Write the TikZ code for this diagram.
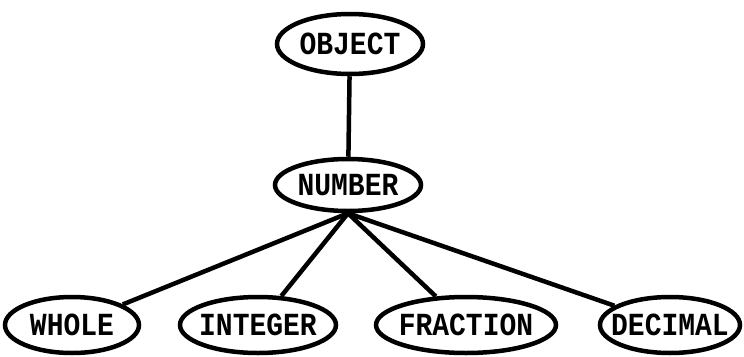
\documentclass[tikz,border=0pt]{standalone}
\usepackage{fontspec}
\newfontfamily\lblfont{Liberation Mono}
\usetikzlibrary{shapes.geometric}
\tikzset{
  ell/.style={ellipse, draw, line width=4.5pt, inner sep=0pt},
  txt/.style={inner sep=0pt, font=\lblfont\bfseries\fontsize{28}{28}\selectfont},
  link/.style={line width=4.5pt}
}
\newcommand{\tallt}[1]{\scalebox{1}[1.15]{#1}}
\begin{document}
\begin{tikzpicture}[x=1pt,y=-1pt]
\useasboundingbox (0,0) rectangle (744,356);
\node[ell, minimum width=146pt, minimum height=60pt, label={[txt]center:\tallt{OBJECT}}] (obj) at (350,44) {};
\node[ell, minimum width=146pt, minimum height=52pt, label={[txt]center:\tallt{NUMBER}}] (num) at (348,185) {};
\node[ell, minimum width=134pt, minimum height=56pt, label={[txt]center:\tallt{WHOLE}}] (whole) at (72,325) {};
\node[ell, minimum width=156pt, minimum height=56pt, label={[txt]center:\tallt{INTEGER}}] (int) at (258,325) {};
\node[ell, minimum width=180pt, minimum height=56pt, label={[txt]center:\tallt{FRACTION}}] (frac) at (466,325) {};
\node[ell, minimum width=140pt, minimum height=56pt, label={[txt]center:\tallt{DECIMAL}}] (dec) at (670,325) {};
\draw[link] (obj) -- (num);
\draw[link] (num.south) -- (whole);
\draw[link] (num.south) -- (int);
\draw[link] (num.south) -- (frac);
\draw[link] (num.south) -- (dec);
\end{tikzpicture}
\end{document}
